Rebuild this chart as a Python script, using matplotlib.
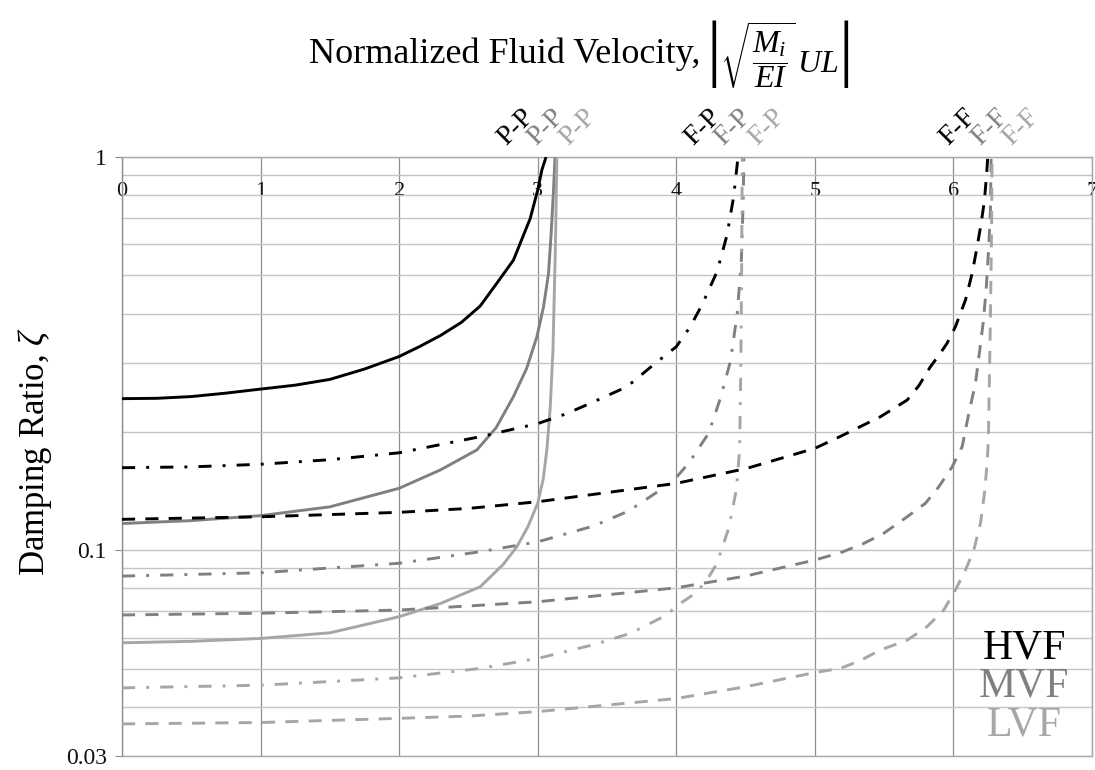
import matplotlib
matplotlib.use("Agg")
import matplotlib.pyplot as plt
from matplotlib.ticker import FixedLocator, NullFormatter

plt.rcParams["font.family"] = ["Liberation Serif", "DejaVu Serif"]
plt.rcParams["mathtext.fontset"] = "custom"
plt.rcParams["mathtext.rm"] = "Liberation Serif"
plt.rcParams["mathtext.it"] = "Liberation Serif:italic"
plt.rcParams["mathtext.fallback"] = "cm"

# ---- data: damping ratio vs. normalized fluid velocity ----
# pinned-pinned (solid)
pp_hvf_u = [0, 0.25, 0.5, 0.75, 1.0, 1.25, 1.5, 1.75, 2.0, 2.15, 2.3, 2.45, 2.585, 2.7, 2.825, 2.946, 3.0, 3.03, 3.06]
pp_hvf_z = [0.243, 0.2435, 0.246, 0.251, 0.257, 0.263, 0.272, 0.289, 0.311, 0.33, 0.352, 0.38, 0.418, 0.475, 0.547, 0.698, 0.824, 0.927, 1.0]
pp_mvf_u = [0, 0.5, 1.0, 1.5, 2.0, 2.296, 2.561, 2.7, 2.825, 2.92, 2.994, 3.042, 3.078, 3.097, 3.114, 3.125]
pp_mvf_z = [0.117, 0.119, 0.1225, 0.129, 0.1438, 0.16, 0.18, 0.205, 0.246, 0.29, 0.349, 0.416, 0.506, 0.64, 0.824, 1.0]
pp_lvf_u = [0, 0.5, 1.0, 1.5, 2.0, 2.3, 2.585, 2.75, 2.85, 2.93, 3.0, 3.04, 3.066, 3.09, 3.11, 3.128, 3.138]
pp_lvf_z = [0.0582, 0.0587, 0.0597, 0.0617, 0.0678, 0.0733, 0.0808, 0.092, 0.1022, 0.115, 0.1317, 0.152, 0.18, 0.23, 0.323, 0.6, 1.0]

# fixed-pinned (dash-dot)
fp_hvf_u = [0, 0.5, 1.0, 1.5, 2.0, 2.585, 3.0, 3.2, 3.379, 3.644, 3.848, 4.0, 4.1, 4.185, 4.294, 4.366, 4.414, 4.443, 4.447]
fp_hvf_z = [0.1622, 0.163, 0.1655, 0.17, 0.177, 0.1945, 0.210, 0.222, 0.2364, 0.2606, 0.2988, 0.3294, 0.37, 0.4204, 0.511, 0.633, 0.793, 0.982, 1.0]
fp_mvf_u = [0, 1.0, 2.0, 2.585, 3.0, 3.403, 3.656, 3.884, 4.005, 4.089, 4.137, 4.233, 4.318, 4.39, 4.44, 4.47, 4.483, 4.488]
fp_mvf_z = [0.086, 0.0877, 0.0927, 0.0992, 0.1051, 0.1153, 0.1259, 0.1423, 0.1539, 0.1665, 0.1764, 0.1983, 0.2434, 0.3017, 0.40, 0.55, 0.78, 1.0]
fp_lvf_u = [0, 1.0, 2.0, 2.585, 3.0, 3.415, 3.668, 3.921, 4.029, 4.137, 4.221, 4.294, 4.378, 4.433, 4.457, 4.466, 4.472, 4.476]
fp_lvf_z = [0.0447, 0.0454, 0.0474, 0.0501, 0.0531, 0.0577, 0.0615, 0.0682, 0.0733, 0.0777, 0.084, 0.0927, 0.1137, 0.1423, 0.18, 0.30, 0.55, 1.0]

# fixed-fixed (dashed)
ff_hvf_u = [0, 1.0, 2.0, 2.5, 3.0, 4.0, 4.51, 5.0, 5.18, 5.473, 5.666, 5.75, 5.834, 5.9, 5.954, 6.014, 6.087, 6.135, 6.171, 6.2, 6.224, 6.238, 6.248]
ff_hvf_z = [0.1199, 0.1217, 0.1249, 0.1278, 0.1329, 0.148, 0.1616, 0.1817, 0.1945, 0.2186, 0.241, 0.262, 0.293, 0.315, 0.336, 0.370, 0.433, 0.506, 0.5915, 0.678, 0.777, 0.891, 1.0]
ff_mvf_u = [0, 1.0, 2.0, 2.5, 3.0, 4.0, 4.5, 5.0, 5.184, 5.35, 5.497, 5.666, 5.798, 5.894, 5.991, 6.039, 6.063, 6.111, 6.159, 6.19, 6.214, 6.236, 6.255, 6.267, 6.272]
ff_mvf_z = [0.0685, 0.0692, 0.0705, 0.0722, 0.074, 0.0803, 0.086, 0.0945, 0.0986, 0.104, 0.1105, 0.1217, 0.1317, 0.145, 0.1631, 0.1764, 0.1834, 0.223, 0.2658, 0.323, 0.3777, 0.459, 0.5915, 0.733, 1.0]
ff_lvf_u = [0, 1.0, 2.0, 2.5, 3.0, 4.0, 4.5, 5.0, 5.184, 5.33, 5.473, 5.666, 5.81, 5.93, 6.014, 6.087, 6.147, 6.195, 6.224, 6.243, 6.252, 6.267, 6.275, 6.279]
ff_lvf_z = [0.0362, 0.0365, 0.0374, 0.0379, 0.0389, 0.042, 0.045, 0.0489, 0.0501, 0.0525, 0.0558, 0.0591, 0.064, 0.0705, 0.0792, 0.0891, 0.1002, 0.1171, 0.1396, 0.1665, 0.19, 0.39, 0.65, 1.0]

fluid_levels = ["HVF", "MVF", "LVF"]
boundary_labels = ["P-P", "F-P", "F-F"]
x_ticks = [0, 1, 2, 3, 4, 5, 6, 7]
y_ticks = [0.03, 0.1, 1]
y_tick_labels = ["0.03", "0.1", "1"]

# ---- styling ----
level_colors = {"HVF": "#000000", "MVF": "#808080", "LVF": "#A6A6A6"}
LW = 2.1
DASHED = (4.5, 3.5)
DASHDOT = (4.5, 3.8, 1.0, 3.8)

series = [
    ("P-P", "HVF", pp_hvf_u, pp_hvf_z), ("P-P", "MVF", pp_mvf_u, pp_mvf_z), ("P-P", "LVF", pp_lvf_u, pp_lvf_z),
    ("F-P", "HVF", fp_hvf_u, fp_hvf_z), ("F-P", "MVF", fp_mvf_u, fp_mvf_z), ("F-P", "LVF", fp_lvf_u, fp_lvf_z),
    ("F-F", "HVF", ff_hvf_u, ff_hvf_z), ("F-F", "MVF", ff_mvf_u, ff_mvf_z), ("F-F", "LVF", ff_lvf_u, ff_lvf_z),
]

fig = plt.figure(figsize=(10.95, 7.7), dpi=100)
ax = fig.add_axes([122 / 1095, 14 / 770, 970 / 1095, 599 / 770])

ax.set_yscale("log")
ax.set_xlim(0, 7)
ax.set_ylim(0.03, 1)

# grid
ax.yaxis.set_major_locator(FixedLocator(y_ticks))
ax.set_yticklabels(y_tick_labels)
ax.yaxis.set_minor_locator(FixedLocator([0.04, 0.05, 0.06, 0.07, 0.08, 0.09,
                                         0.2, 0.3, 0.4, 0.5, 0.6, 0.7, 0.8, 0.9]))
ax.yaxis.set_minor_formatter(NullFormatter())
ax.set_xticks(x_ticks)
ax.grid(True, axis="y", which="both", color="#C4C4C4", lw=1.0, zorder=0)
ax.grid(True, axis="x", which="major", color="#8E8E8E", lw=0.9, zorder=0)
ax.set_axisbelow(True)

for s in ax.spines.values():
    s.set_color("#A8A8A8")
    s.set_linewidth(1.0)
ax.spines["left"].set_color("#8E8E8E")

ax.tick_params(axis="x", which="both", bottom=False, top=False,
               labelbottom=False, labeltop=True, pad=-35, labelsize=16, labelcolor="#111111")
ax.tick_params(axis="y", which="major", left=True, length=5, color="#8E8E8E",
               labelsize=17, pad=6, labelcolor="#111111")
ax.tick_params(axis="y", which="minor", left=False, right=False)

styles = {"P-P": None, "F-P": DASHDOT, "F-F": DASHED}
for bc, lvl, u, z in series:
    kw = dict(color=level_colors[lvl], lw=LW, solid_capstyle="butt", dash_capstyle="butt",
              solid_joinstyle="round", zorder=3)
    if styles[bc] is None:
        ax.plot(u, z, linestyle="-", **kw)
    else:
        ax.plot(u, z, dashes=styles[bc], **kw)

# rotated boundary-condition labels above the plot
label_u = {"P-P": [2.84, 3.06, 3.29], "F-P": [4.19, 4.41, 4.65], "F-F": [6.03, 6.26, 6.49]}
for bc in boundary_labels:
    for lvl, xu in zip(fluid_levels, label_u[bc]):
        ax.text(xu, 1.05, bc, transform=ax.get_xaxis_transform(), rotation=45,
                ha="center", va="center", fontsize=20, color=level_colors[lvl], clip_on=False)

# fluid-level key
for lvl, ya in zip(fluid_levels, [0.18, 0.117, 0.052]):
    ax.text(0.93, ya, lvl, transform=ax.transAxes, ha="center", va="center",
            fontsize=30, color=level_colors[lvl])

# axis titles
fig.text(700 / 1095, 1 - 63 / 770, "Normalized Fluid Velocity,",
         ha="right", va="baseline", fontsize=26)
fig.text(706 / 1095, 1 - 54 / 770, r"$\left|\sqrt{\dfrac{M_i}{EI}}\,UL\right|$",
         ha="left", va="center", fontsize=23)
fig.text(35 / 1095, 1 - 452 / 770, r"Damping Ratio, $\zeta$", rotation=90,
         ha="center", va="center", fontsize=25)

fig.savefig("out.png", dpi=100)
